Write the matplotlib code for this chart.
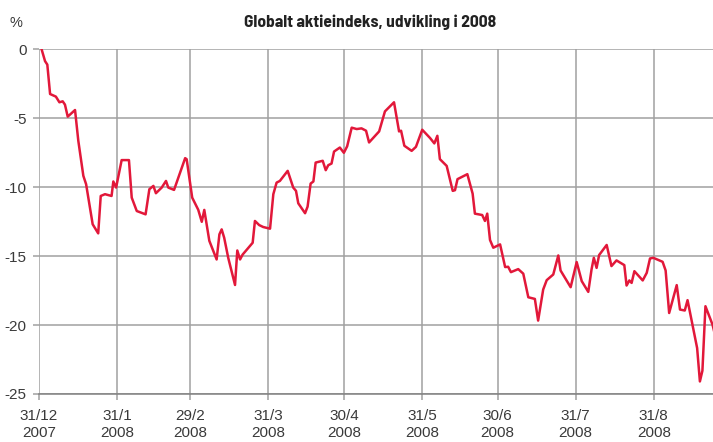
import matplotlib
matplotlib.use("Agg")
import matplotlib.pyplot as plt
import pandas as pd

# -----------------------------------------------------------------------------
# Data — days after 31/12/2007 and index change in %
# -----------------------------------------------------------------------------
START = pd.Timestamp("2007-12-31")

days = [
    1.0, 2.4, 3.3, 4.4, 6.7, 8.1, 9.4, 10.3, 11.4, 14.3, 15.6, 17.6, 18.7, 21.3,
    23.5, 24.5, 26.2, 28.8, 29.5, 30.6, 32.8, 35.7, 36.8, 38.8, 42.3, 43.8, 45.4,
    46.4, 48.7, 50.4, 51.3, 53.6, 56.0, 58.0, 58.6, 60.8, 63.2, 64.6, 65.6, 67.6,
    70.5, 71.6, 72.5, 73.5, 75.1, 77.8, 78.7, 79.8, 80.8, 84.8, 85.7, 87.4, 89.0,
    91.7, 93.0, 94.3, 95.6, 98.7, 100.9, 102.0, 102.9, 105.6, 106.6, 107.8, 108.9,
    109.8, 112.6, 113.8, 114.8, 116.1, 117.1, 119.4, 121.0, 122.3, 124.1, 126.1,
    128.0, 129.8, 131.0, 135.0, 137.3, 140.9, 142.9, 143.7, 145.0, 147.9, 149.6,
    152.1, 155.2, 156.9, 158.1, 159.1, 161.8, 164.2, 165.1, 166.1, 170.0, 172.1,
    173.0, 175.9, 177.0, 177.9, 179.0, 180.3, 183.0, 185.0, 186.2, 187.3, 190.2,
    192.2, 194.2, 196.8, 198.1, 200.1, 201.5, 204.1, 206.1, 207.0, 211.0, 213.4,
    215.4, 218.0, 219.3, 220.2, 221.3, 222.3, 225.3, 227.2, 229.2, 232.3, 233.2,
    234.3, 235.2, 236.3, 239.6, 241.2, 242.5, 243.8, 247.5, 248.7, 250.1, 253.1,
    254.4, 256.3, 257.4, 259.6, 261.2, 262.3, 263.3, 264.5, 267.3, 268.0,
]

values = [
    0.0, -0.88, -1.13, -3.26, -3.45, -3.86, -3.79, -4.03, -4.90, -4.42, -6.65,
    -9.19, -9.80, -12.70, -13.36, -10.65, -10.52, -10.65, -9.60, -10.04, -8.05,
    -8.05, -10.77, -11.74, -11.98, -10.16, -9.92, -10.45, -10.04, -9.56, -10.04,
    -10.21, -8.95, -7.91, -7.98, -10.77, -11.65, -12.52, -11.66, -13.90, -15.25,
    -13.43, -13.07, -13.68, -15.13, -17.10, -14.60, -15.25, -14.90, -14.04,
    -12.46, -12.76, -12.90, -13.02, -10.52, -9.68, -9.56, -8.83, -10.04, -10.28,
    -11.18, -11.90, -11.42, -9.75, -9.60, -8.23, -8.10, -8.78, -8.42, -8.30,
    -7.43, -7.14, -7.52, -7.05, -5.70, -5.80, -5.75, -5.92, -6.77, -5.97, -4.52,
    -3.86, -5.97, -5.92, -7.01, -7.38, -7.09, -5.85, -6.45, -6.84, -6.29, -7.98,
    -8.47, -10.28, -10.23, -9.43, -9.07, -10.48, -11.93, -12.03, -12.46, -11.93,
    -13.84, -14.40, -14.16, -15.80, -15.78, -16.17, -15.95, -16.28, -17.99,
    -18.11, -19.68, -17.43, -16.75, -16.34, -14.96, -16.05, -17.26, -15.44,
    -16.82, -17.60, -15.97, -15.13, -15.86, -14.93, -14.20, -15.73, -15.32,
    -15.66, -17.14, -16.77, -16.95, -16.10, -16.77, -16.22, -15.18, -15.13,
    -15.42, -16.05, -19.13, -17.11, -18.88, -18.95, -18.20, -20.22, -21.67,
    -24.09, -23.31, -18.64, -19.97, -20.50,
]

tick_dates = ["2007-12-31", "2008-01-31", "2008-02-29", "2008-03-31", "2008-04-30",
              "2008-05-31", "2008-06-30", "2008-07-31", "2008-08-31"]
tick_labels = ["31/12\n2007", "31/1\n2008", "29/2\n2008", "31/3\n2008", "30/4\n2008",
               "31/5\n2008", "30/6\n2008", "31/7\n2008", "31/8\n2008"]
y_ticks = [0, -5, -10, -15, -20, -25]

# -----------------------------------------------------------------------------
# Plot
# -----------------------------------------------------------------------------
plt.rcParams["font.family"] = ["Liberation Sans", "DejaVu Sans"]

RED = "#e2183a"
GRID = "#a0a0a0"
TXT = "#3a3a3a"

dates = START + pd.to_timedelta(days, unit="D")

fig = plt.figure(figsize=(7.13, 4.42), dpi=100)
ax = fig.add_axes([0.0547, 0.1086, 0.9453, 0.7805])

ax.plot(dates, values, color=RED, lw=1.8, zorder=3)

ax.set_xlim(START, START + pd.Timedelta(days=267.5))
ax.set_ylim(-25, 0)
ax.set_xticks(pd.to_datetime(tick_dates))
ax.set_xticklabels(tick_labels, linespacing=1.35)
ax.set_yticks(y_ticks)
ax.set_yticklabels([str(v) for v in y_ticks])

ax.grid(True, color=GRID, lw=1.1)
for s in ["top", "right", "left"]:
    ax.spines[s].set_visible(False)
ax.spines["bottom"].set_color("#808080")
ax.spines["bottom"].set_linewidth(1.1)
ax.tick_params(axis="both", colors=GRID, labelcolor=TXT, labelsize=11, length=4, width=1.1)
ax.tick_params(axis="x", pad=6.5)
ax.tick_params(axis="y", pad=5)

fig.text(0.014, 0.948, "%", fontsize=10.5, color=TXT, ha="left", va="center")
fig.text(0.519, 0.939, "Globalt aktieindeks, udvikling i 2008", fontsize=12.5,
         fontweight="bold", color="#222222", ha="center", va="baseline",
         family=["Barlow Semi Condensed", "Barlow Condensed", "DejaVu Sans"])

fig.savefig("out.png", dpi=100)
